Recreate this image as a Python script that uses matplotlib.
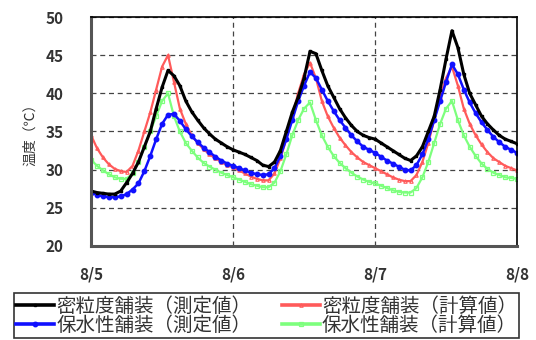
import numpy as np
import matplotlib.pyplot as plt

plt.rcParams['font.family'] = ['Noto Sans CJK JP', 'DejaVu Sans']

# 時刻（8/5 0時からの経過時間, 1時間ごと）
horas = np.arange(73)

# 密粒度舗装（測定値）
negro = [27.2, 27.0, 26.9, 26.8, 26.8, 27.2, 28.3, 29.5, 31.0, 33.0, 35.0, 38.0,
         40.8, 43.0, 42.3, 41.0, 39.0, 37.6, 36.5, 35.5, 34.7, 34.0, 33.5, 33.0,
         32.6, 32.3, 32.0, 31.6, 31.2, 30.6, 30.4, 31.0, 32.5, 35.0, 37.5, 39.5,
         42.0, 45.5, 45.2, 43.0, 41.0, 39.5, 38.0, 36.8, 35.8, 35.0, 34.5, 34.2,
         34.0, 33.5, 33.0, 32.5, 32.0, 31.5, 31.2, 31.8, 33.0, 35.0, 37.0, 40.5,
         44.5, 48.2, 46.0, 42.5, 40.0, 38.5, 37.0, 36.0, 35.2, 34.5, 34.0, 33.7,
         33.4]
# 保水性舗装（測定値）
azul = [27.0, 26.7, 26.5, 26.4, 26.4, 26.5, 26.8, 27.4, 28.2, 29.8, 31.8, 34.0,
        36.0, 37.2, 37.3, 36.4, 35.3, 34.4, 33.6, 32.9, 32.3, 31.7, 31.2, 30.8,
        30.5, 30.2, 29.9, 29.6, 29.4, 29.3, 29.4, 30.2, 31.8, 34.0, 36.5, 39.0,
        41.0, 42.8, 42.0, 40.5, 39.0, 37.7, 36.5, 35.5, 34.5, 33.7, 33.0, 32.6,
        32.2, 31.7, 31.2, 30.8, 30.4, 30.0, 29.9, 30.6, 32.0, 34.0, 36.5, 39.0,
        41.5, 43.8, 42.5, 40.5, 38.8, 37.4, 36.2, 35.2, 34.3, 33.6, 33.0, 32.6,
        32.2]
# 密粒度舗装（計算値）
rojo = [34.5, 32.8, 31.6, 30.7, 30.1, 29.8, 29.7, 30.5, 32.5, 35.0, 37.5, 40.5,
        43.5, 45.0, 41.5, 38.0, 36.0, 34.5, 33.5, 32.7, 32.0, 31.5, 31.0, 30.6,
        30.3, 29.9, 29.5, 29.1, 28.8, 28.6, 28.6, 29.5, 31.5, 34.0, 37.0, 40.0,
        42.5, 44.0, 42.0, 39.0, 37.0, 35.5, 34.2, 33.2, 32.3, 31.6, 31.0, 30.6,
        30.2, 29.8, 29.4, 29.0, 28.7, 28.5, 28.5, 29.3, 31.0, 33.5, 36.5, 39.5,
        42.0, 43.5, 41.0, 38.0, 36.0, 34.5, 33.3, 32.3, 31.5, 31.0, 30.5, 30.2,
        29.9]
# 保水性舗装（計算値）
verde = [31.3, 30.5, 29.9, 29.4, 29.0, 28.8, 28.8, 29.5, 31.0, 33.0, 35.0, 37.0,
         39.0, 40.0, 37.0, 35.0, 33.5, 32.5, 31.6, 30.9, 30.4, 30.0, 29.6, 29.3,
         29.0, 28.7, 28.4, 28.1, 27.9, 27.7, 27.7, 28.3, 29.8, 32.0, 34.5, 36.5,
         38.0, 38.8, 36.5, 34.5, 33.0, 31.8, 30.9, 30.2, 29.6, 29.1, 28.7, 28.4,
         28.2, 27.9, 27.6, 27.3, 27.1, 27.0, 27.0, 27.6, 29.0, 31.0, 33.5, 36.0,
         38.0, 39.0, 36.5, 34.5, 33.0, 31.8, 30.8, 30.1, 29.6, 29.3, 29.0, 28.9,
         28.8]

etiquetas_x = ['8/5', '8/6', '8/7', '8/8']
nombres = ['密粒度舗装（測定値）', '保水性舗装（測定値）',
           '密粒度舗装（計算値）', '保水性舗装（計算値）']

fig = plt.figure(figsize=(5.36, 3.4), dpi=100)
ax = fig.add_axes([0.170, 0.2765, 0.7946, 0.6735])

c_rojo = '#ff5a5a'
c_verde = '#7dff7d'

l_verde, = ax.plot(horas, verde, color=c_verde, lw=1.6, marker='s', ms=3,
                   mfc='none', mec=c_verde, mew=0.9)
l_rojo, = ax.plot(horas, rojo, color=c_rojo, lw=1.6, marker='^', ms=2.5,
                  mfc='none', mec=c_rojo, mew=0.8)
l_azul, = ax.plot(horas, azul, color='#1010ff', lw=1.8, marker='o', ms=3.2,
                  mfc='#1010ff', mec='#1010ff')
l_negro, = ax.plot(horas, negro, color='black', lw=2.2, marker='s', ms=2,
                   mfc='black', mec='black')

ax.set_xlim(0, 72)
ax.set_ylim(20, 50)
ax.set_xticks([0, 24, 48, 72])
ax.set_xticklabels(etiquetas_x)
ax.set_yticks(np.arange(20, 51, 5))
ax.tick_params(length=0, labelsize=11, labelcolor='#333333')
ax.tick_params(axis='x', pad=15)
ax.tick_params(axis='y', pad=20)
for lab in ax.get_xticklabels() + ax.get_yticklabels():
    lab.set_fontweight('bold')

ax.grid(True, color='#444444', linestyle=(0, (4, 3)), linewidth=0.9)
ax.set_axisbelow(True)
for lado in ['top', 'right']:
    ax.spines[lado].set_linewidth(1.2)
for lado in ['left', 'bottom']:
    ax.spines[lado].set_linewidth(2.2)
    ax.spines[lado].set_color('#555555')

ax.set_ylabel('温度（℃）', fontsize=10, color='#333333', labelpad=6)

leg = fig.legend([l_negro, l_azul, l_rojo, l_verde], nombres, ncol=2,
                 loc='lower left', bbox_to_anchor=(14 / 536, 2 / 340),
                 borderaxespad=0, fontsize=14, handlelength=1.95,
                 handletextpad=0.12, borderpad=0.12, labelspacing=-0.1,
                 columnspacing=1.55, fancybox=False, edgecolor='#333333',
                 framealpha=1)
leg.get_frame().set_linewidth(1.2)
for t in leg.get_texts():
    t.set_color('#333333')
for h in leg.legend_handles:
    h.set_linewidth(2.6)

fig.savefig('out.png', dpi=100)
